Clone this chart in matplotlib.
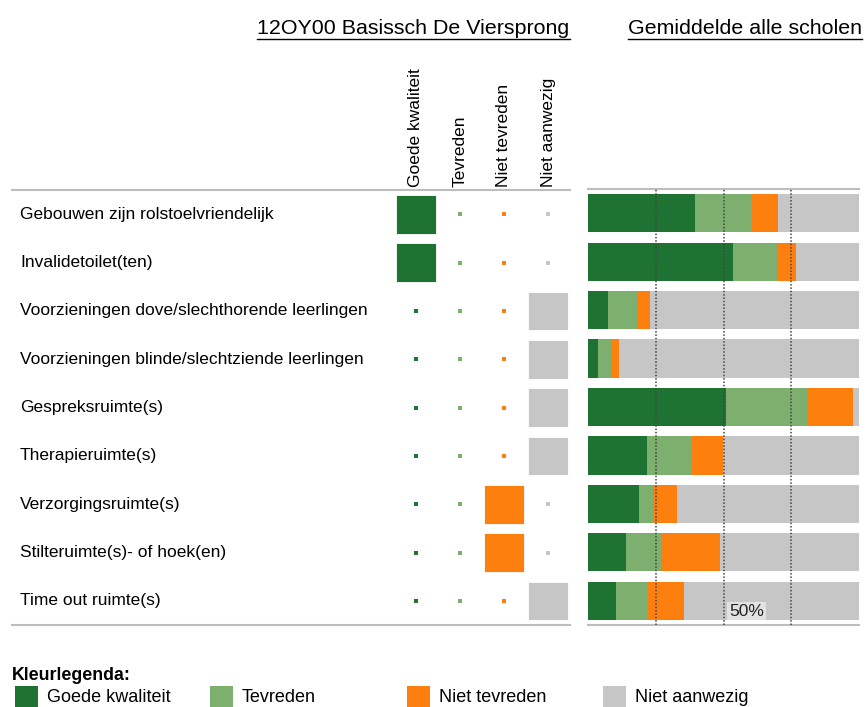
import matplotlib
matplotlib.use("Agg")
import matplotlib.pyplot as plt
import numpy as np
from matplotlib.patches import Rectangle
from matplotlib.lines import Line2D

plt.rcParams['font.family'] = ['Liberation Sans', 'DejaVu Sans']

school_title = "12OY00 Basissch De Viersprong"
avg_title = "Gemiddelde alle scholen"
categories = ["Goede kwaliteit", "Tevreden", "Niet tevreden", "Niet aanwezig"]
colors = ["#1e7232", "#7daf6e", "#fd800f", "#c6c6c6"]
items = [
    "Gebouwen zijn rolstoelvriendelijk",
    "Invalidetoilet(ten)",
    "Voorzieningen dove/slechthorende leerlingen",
    "Voorzieningen blinde/slechtziende leerlingen",
    "Gespreksruimte(s)",
    "Therapieruimte(s)",
    "Verzorgingsruimte(s)",
    "Stilteruimte(s)- of hoek(en)",
    "Time out ruimte(s)",
]
# school answer per item (index into categories)
school_answer = [0, 0, 3, 3, 3, 3, 2, 2, 3]
# average of all schools, percent per category
avg_goed = [39.6, 53.4, 7.3, 3.7, 50.8, 21.6, 18.7, 13.9, 10.2]
avg_tevreden = [20.9, 16.8, 10.8, 5.3, 30.0, 16.8, 5.3, 13.0, 11.9]
avg_niet_tevreden = [9.7, 6.6, 4.8, 2.6, 16.9, 11.4, 9.0, 21.7, 13.3]
avg_niet_aanwezig = [29.8, 23.2, 77.1, 88.4, 2.3, 50.2, 67.0, 51.4, 64.6]
gridlines = [25, 50, 75]

W, H = 866, 707
fig = plt.figure(figsize=(W / 100, H / 100), dpi=100)

def box(x0, y0, x1, y1):
    return [x0 / W, 1 - y1 / H, (x1 - x0) / W, (y1 - y0) / H]

n = len(items)
ylim = (n - 0.5, -0.5)
line_col = "#bdbdbd"
fs = 12.5

# left table
axl = fig.add_axes(box(12, 190, 570, 625))
axl.set_xlim((12 - 416) / 44, (570 - 416) / 44)
axl.set_ylim(*ylim)
matrix = np.zeros((n, 4))
for i, a in enumerate(school_answer):
    matrix[i, a] = 1
for j in range(4):
    rows = np.arange(n)
    on = matrix[:, j] == 1
    axl.bar(np.full(on.sum(), j), 0.8, width=0.92, bottom=rows[on] - 0.4,
            color=colors[j], edgecolor="white", linewidth=0.6)
    axl.scatter(np.full((~on).sum(), j), rows[~on], s=5, marker="s",
                color=colors[j], linewidths=0)
    axl.text(j, 1.0 + 3 / 435, categories[j], rotation=90, ha="center", va="bottom",
             fontsize=fs, transform=axl.get_xaxis_transform())
for i, lab in enumerate(items):
    axl.text(8 / 558, i, lab, ha="left", va="center", fontsize=fs,
             transform=axl.get_yaxis_transform())

# right stacked bars
axr = fig.add_axes(box(588, 189, 859, 625))
axr.set_xlim(0, 100)
axr.set_ylim(*ylim)
left = np.zeros(n)
for vals, c in zip([avg_goed, avg_tevreden, avg_niet_tevreden, avg_niet_aanwezig], colors):
    vals = np.array(vals)
    axr.barh(np.arange(n), vals, left=left, height=0.79, color=c,
             edgecolor="none")
    left += vals
for g in gridlines:
    axr.axvline(g, color="#444444", linestyle=(0, (1, 1.2)), linewidth=1.1, zorder=5)
axr.text(52, n - 0.5 - 0.13, "50%", ha="left", va="bottom", fontsize=fs,
         color="#222222", zorder=6,
         bbox=dict(facecolor="#e2e2e2", edgecolor="none", pad=1.2))

for ax in (axl, axr):
    for s in ("left", "right"):
        ax.spines[s].set_visible(False)
    for s in ("top", "bottom"):
        ax.spines[s].set_color(line_col)
        ax.spines[s].set_linewidth(1.5)
    ax.set_xticks([])
    ax.set_yticks([])
    ax.patch.set_alpha(0)

# titles (underlined)
titles = [fig.text(413.5 / W, 1 - 28 / H, school_title, ha="center", va="center", fontsize=15.4),
          fig.text(745 / W, 1 - 28 / H, avg_title, ha="center", va="center", fontsize=15.4)]
fig.canvas.draw()
r = fig.canvas.get_renderer()
for t in titles:
    bb = t.get_window_extent(r).transformed(fig.transFigure.inverted())
    fig.add_artist(Line2D([bb.x0, bb.x1], [bb.y0 - 0.002, bb.y0 - 0.002],
                          transform=fig.transFigure, color="black", linewidth=1))

# colour legend
fig.text(12 / W, 1 - 676 / H, "Kleurlegenda:", fontsize=12.8, fontweight="bold",
         ha="left", va="center")
leg_x = [15, 210, 407, 603]
for x, c, lab in zip(leg_x, colors, categories):
    fig.add_artist(Rectangle((x / W, 1 - 710 / H), 23 / W, 24 / H, transform=fig.transFigure,
                             facecolor=c, edgecolor="none"))
    fig.text((x + 32) / W, 1 - 698 / H, lab, fontsize=13, ha="left", va="center")

fig.savefig("out.png", dpi=100)
